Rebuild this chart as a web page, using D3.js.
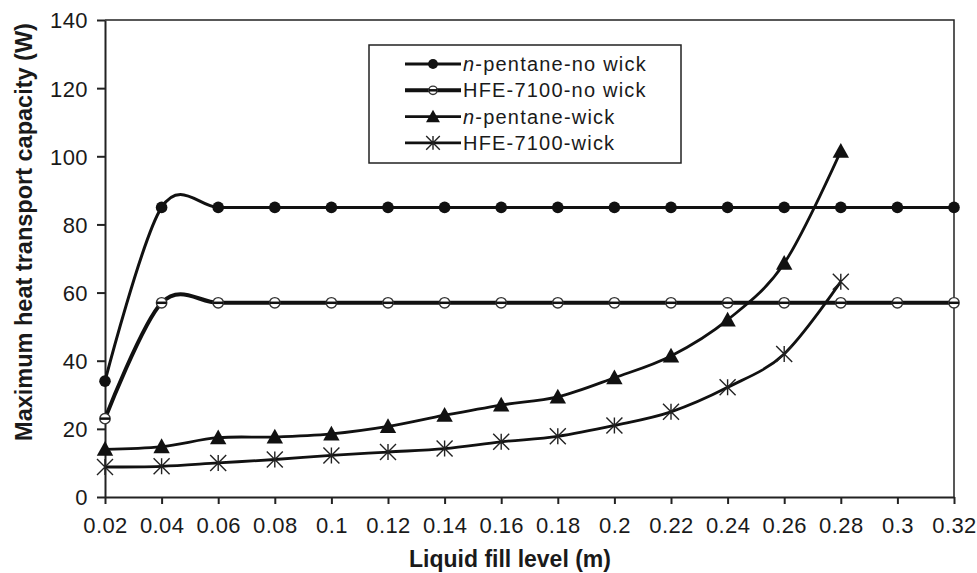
<!DOCTYPE html>
<html>
<head>
<meta charset="utf-8">
<script src="https://cdn.jsdelivr.net/npm/d3@7"></script>
<style>
  body { margin: 0; background: #fff; }
  svg text { font-family: "Liberation Sans", Arial, sans-serif; fill: #1a1a1a; }
</style>
</head>
<body>
<svg id="chart" width="977" height="573"></svg>
<script>
// values
var fillLevels = ["0.02","0.04","0.06","0.08","0.1","0.12","0.14","0.16","0.18","0.2","0.22","0.24","0.26","0.28","0.3","0.32"];
var pentaneNoWick = [34, 85, 85, 85, 85, 85, 85, 85, 85, 85, 85, 85, 85, 85, 85, 85];
var hfeNoWick     = [23, 57, 57, 57, 57, 57, 57, 57, 57, 57, 57, 57, 57, 57, 57, 57];
var pentaneWick   = [14, 14.8, 17.4, 17.6, 18.5, 20.7, 24, 27, 29.4, 35, 41.4, 52, 68.6, 101.5, null, null];
var hfeWick       = [8.8, 9, 10, 11, 12.2, 13.2, 14.2, 16.2, 17.8, 21, 25, 32.2, 42, 63.2, null, null];
var yTicks = [0, 20, 40, 60, 80, 100, 120, 140];
var seriesNames = ["n-pentane-no wick", "HFE-7100-no wick", "n-pentane-wick", "HFE-7100-wick"];

var plotLeft = 105, plotRight = 954, plotTop = 20, plotBottom = 497;
var ink = "#111";

var svg = d3.select("#chart");

var x = d3.scalePoint()
    .domain(fillLevels)
    .range([plotLeft, plotRight]);

var y = d3.scaleLinear()
    .domain([0, 140])
    .range([plotBottom, plotTop]);

// plot frame (top and right)
svg.append("path")
    .attr("d", "M" + plotLeft + "," + plotTop + "H" + plotRight + "V" + plotBottom)
    .attr("fill", "none")
    .attr("stroke", "#222")
    .attr("stroke-width", 1.5);

// axes
var yAxis = svg.append("g")
    .attr("transform", "translate(" + plotLeft + ",0)")
    .call(d3.axisLeft(y).tickValues(yTicks).tickSize(8).tickSizeOuter(0).tickPadding(9));

var xAxis = svg.append("g")
    .attr("transform", "translate(0," + plotBottom + ")")
    .call(d3.axisBottom(x).tickSize(7).tickSizeOuter(0).tickPadding(13));

[yAxis, xAxis].forEach(function(a) {
  a.select(".domain").attr("stroke", "#222").attr("stroke-width", 2);
  a.selectAll(".tick line").attr("stroke", "#222").attr("stroke-width", 2);
  a.selectAll(".tick text")
    .attr("font-size", 22)
    .attr("letter-spacing", "0.4px")
    .attr("fill", "#1a1a1a");
});
yAxis.selectAll(".tick text").attr("dy", "0.36em");

// axis titles
svg.append("text")
    .attr("x", 510)
    .attr("y", 567)
    .attr("text-anchor", "middle")
    .attr("font-size", 23)
    .attr("font-weight", "bold")
    .text("Liquid fill level (m)");

svg.append("text")
    .attr("transform", "translate(32,232) rotate(-90)")
    .attr("text-anchor", "middle")
    .attr("font-size", 23.5)
    .attr("font-weight", "bold")
    .text("Maximum heat transport capacity (W)");

// markers
function drawMarker(g, kind, cx, cy, s) {
  s = s || 1;
  if (kind === "dot") {
    g.append("circle").attr("cx", cx).attr("cy", cy).attr("r", 5.8 * s).attr("fill", ink);
  } else if (kind === "ring") {
    g.append("circle").attr("cx", cx).attr("cy", cy).attr("r", 5.2 * s)
      .attr("fill", "#fff").attr("stroke", "#333").attr("stroke-width", 1.4);
    g.append("line").attr("x1", cx - 5 * s).attr("x2", cx + 5 * s).attr("y1", cy).attr("y2", cy)
      .attr("stroke", ink).attr("stroke-width", 2.5);
  } else if (kind === "tri") {
    var h = 8.2 * s;
    g.append("path")
      .attr("d", "M" + cx + "," + (cy - h) + "L" + (cx + h) + "," + (cy + h * 0.8) + "L" + (cx - h) + "," + (cy + h * 0.8) + "Z")
      .attr("fill", ink);
  } else if (kind === "star") {
    var r = 8 * s;
    g.append("path")
      .attr("d", "M" + (cx - r) + "," + (cy - r) + "L" + (cx + r) + "," + (cy + r) +
                 "M" + (cx - r) + "," + (cy + r) + "L" + (cx + r) + "," + (cy - r) +
                 "M" + cx + "," + (cy - r) + "L" + cx + "," + (cy + r))
      .attr("stroke", "#222").attr("stroke-width", 1.4).attr("fill", "none");
  }
}

var series = [
  { name: seriesNames[3], values: hfeWick,       marker: "star", width: 2.8 },
  { name: seriesNames[2], values: pentaneWick,   marker: "tri",  width: 2.8 },
  { name: seriesNames[1], values: hfeNoWick,     marker: "ring", width: 4 },
  { name: seriesNames[0], values: pentaneNoWick, marker: "dot",  width: 3 }
];

var line = d3.line()
    .x(function(d) { return x(d.k); })
    .y(function(d) { return y(d.v); })
    .curve(d3.curveCardinal.tension(0));

series.forEach(function(s) {
  var pts = fillLevels.map(function(k, i) { return { k: k, v: s.values[i] }; })
    .filter(function(d) { return d.v != null; });
  svg.append("path")
    .datum(pts)
    .attr("d", line)
    .attr("fill", "none")
    .attr("stroke", ink)
    .attr("stroke-width", s.width)
    .attr("stroke-linejoin", "round");
  var g = svg.append("g");
  pts.forEach(function(d) { drawMarker(g, s.marker, x(d.k), y(d.v)); });
});

// legend
var legend = svg.append("g");
legend.append("rect")
    .attr("x", 369).attr("y", 45).attr("width", 312).attr("height", 118)
    .attr("fill", "#fff").attr("stroke", "#222").attr("stroke-width", 1.5);

var legendItems = [
  { name: seriesNames[0], marker: "dot",  width: 3, italic: true },
  { name: seriesNames[1], marker: "ring", width: 4, italic: false },
  { name: seriesNames[2], marker: "tri",  width: 2.8, italic: true },
  { name: seriesNames[3], marker: "star", width: 2.8, italic: false }
];
legendItems.forEach(function(it, i) {
  var ly = 64 + i * 26.3;
  legend.append("line")
    .attr("x1", 405).attr("x2", 461).attr("y1", ly).attr("y2", ly)
    .attr("stroke", ink).attr("stroke-width", it.width);
  drawMarker(legend, it.marker, 433, ly, it.marker === "ring" ? 0.8 : 0.85);
  var t = legend.append("text")
    .attr("x", 463).attr("y", ly + 7)
    .attr("font-size", 20)
    .attr("letter-spacing", "1.2px");
  if (it.italic) {
    t.append("tspan").attr("font-style", "italic").text("n");
    t.append("tspan").text(it.name.slice(1));
  } else {
    t.text(it.name);
  }
});
</script>
</body>
</html>
